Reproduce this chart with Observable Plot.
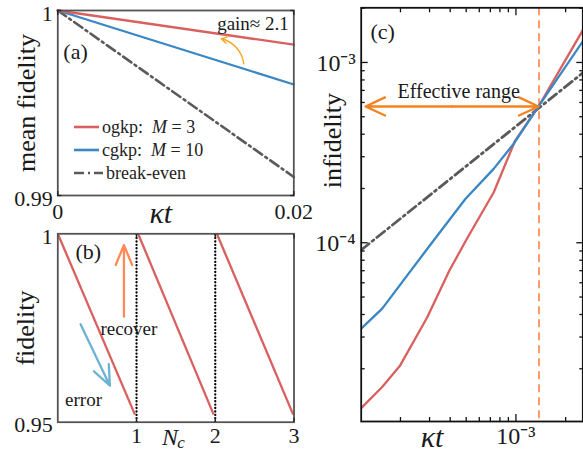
<!DOCTYPE html>
<html>
<head>
<meta charset="utf-8">
<script src="https://cdn.jsdelivr.net/npm/d3@7"></script>
<script src="https://cdn.jsdelivr.net/npm/@observablehq/plot@0.6"></script>
<style>
  body { margin: 0; background: #fff; }
  #fig { position: relative; width: 583px; height: 455px; overflow: hidden; background: #fff;
         font-family: "Liberation Serif", serif; color: #222; }
  .leg { position: absolute; font-family: "Liberation Serif", serif; font-size: 18px; line-height: 18px; white-space: pre; display: flex; align-items: center; }
  .leg svg { margin-right: 3px; }
  #fig svg text { font-family: "Liberation Serif", serif; }
</style>
</head>
<body>
<div id="fig"></div>
<script>
// ---------- Panel (a): mean fidelity vs kappa t ----------
const aKt = [0, 0.02];
const aOgkp = [1, 0.99815];
const aCgkp = [1, 0.996];
const aBreakEven = [1, 0.991];
const aXTicks = [0, 0.02];
const aYTicks = [0.99, 1];
const aGainArrowKt = [0.01576, 0.01385];
const aGainArrowF = [0.99712, 0.99847];
const aLegend = ["ogkp:  ", "cgkp:  ", "break-even"];

// ---------- Panel (b): fidelity vs N_c (sawtooth) ----------
const bCycleStart = [0, 1.02, 2.02];
const bCycleEnd = [0.98, 1.98, 2.99];
const bFidStart = [1, 1, 1];
const bFidEnd = [0.952, 0.952, 0.952];
const bRecoveries = [1, 2];
const bXTicks = [1, 2, 3];
const bYTicks = [0.95, 1];
const bRecoverArrowX = [0.84, 0.84];
const bRecoverArrowF = [0.978, 0.997];
const bErrorArrowX = [0.289, 0.662];
const bErrorArrowF = [0.976, 0.9597];
const bRecoverLabel = [0.903, 0.9748];
const bErrorLabel = [0.327, 0.9558];

// ---------- Panel (c): infidelity vs kappa t (log-log) ----------
const cRedKt  = [1.157e-4, 1.55e-4, 1.98e-4, 2.9e-4, 3.95e-4, 5.0e-4, 7.33e-4, 9.9e-4, 1.37e-3, 2.54e-3];
const cRedInf = [1.21e-5, 1.585e-5, 2.07e-5, 3.85e-5, 6.99e-5, 1.035e-4, 1.9e-4, 3.69e-4, 5.7e-4, 1.51e-3];
const cBlueKt  = [1.157e-4, 1.55e-4, 2.9e-4, 4.94e-4, 7.33e-4, 9.67e-4, 1.37e-3, 2.54e-3];
const cBlueInf = [3.34e-5, 4.31e-5, 9.23e-5, 1.75e-4, 2.57e-4, 3.53e-4, 5.7e-4, 1.31e-3];
const cBreakKt  = [1.157e-4, 2.54e-3];
const cBreakInf = [9.12e-5, 8.75e-4];
const cThreshold = [1.38e-3];
const cRangeKt = [1.23e-4, 4.1e-4, 1.37e-3];
const cRangeInf = 5.7e-4;
const cRangeLabel = [4.5e-4, 6.93e-4];
const cYMajor = [1e-4, 1e-3];
const cYMinor = [2e-5, 3e-5, 4e-5, 5e-5, 6e-5, 7e-5, 8e-5, 9e-5, 2e-4, 3e-4, 4e-4, 5e-4, 6e-4, 7e-4, 8e-4, 9e-4, 2e-3];
const cXMajor = [1e-3];
const cXMinor = [2e-4, 3e-4, 4e-4, 5e-4, 6e-4, 7e-4, 8e-4, 9e-4, 2e-3];
const cYLabels = {1e-4: "10\u207B\u2074", 1e-3: "10\u207B\u00B3"};

// ---------- styling ----------
const RED = "#d9605f", BLUE = "#3a87c4", GRAY = "#5a5a5a";
const SERIF = "Liberation Serif";
const rows = (xs, ys) => xs.map((x, i) => ({x, y: ys[i]}));
const style = {fontFamily: "'Liberation Serif', serif", fontSize: "22px", overflow: "visible", background: "none", color: "#111"};
const T = (o) => ({fontFamily: SERIF, fill: "#1a1a1a", ...o});

function inward(axis, ticks, size, anchor, color) {
  const o = {ticks, anchor, tickSize: size, tickFormat: () => "", stroke: color, strokeWidth: 1.3, label: null};
  if (axis === "x") return Plot.axisX({...o, dy: anchor === "bottom" ? -size : size});
  return Plot.axisY({...o, dx: anchor === "left" ? size : -size});
}

const fig = document.getElementById("fig");
function place(svg, left, top) {
  svg.style.position = "absolute";
  svg.style.left = left + "px";
  svg.style.top = top + "px";
  fig.appendChild(svg);
}

// ---------- (a) ----------
const frameA = "#555";
const plotA = Plot.plot({
  width: 310, height: 228,
  marginLeft: 57.3, marginRight: 16.7, marginTop: 10, marginBottom: 33,
  x: {domain: [0, 0.02]},
  y: {domain: [0.99, 1]},
  style,
  marks: [
    Plot.line(rows(aKt, aBreakEven), {x: "x", y: "y", stroke: GRAY, strokeWidth: 2.6, strokeDasharray: "10,4,2,4"}),
    Plot.line(rows(aKt, aCgkp), {x: "x", y: "y", stroke: BLUE, strokeWidth: 2.3}),
    Plot.line(rows(aKt, aOgkp), {x: "x", y: "y", stroke: RED, strokeWidth: 2.3}),
    Plot.arrow({length: 1}, {x1: [aGainArrowKt[0]], y1: [aGainArrowF[0]], x2: [aGainArrowKt[1]], y2: [aGainArrowF[1]],
      bend: -35, stroke: "#f5a623", strokeWidth: 1.4, headLength: 7}),
    Plot.frame({stroke: frameA, strokeWidth: 1.8}),
    Plot.axisY(T({ticks: aYTicks, tickSize: 0, tickPadding: 5, dy: 3, fontSize: 22, tickFormat: d => String(d), label: null})),
    Plot.axisX(T({ticks: aXTicks, tickSize: 0, tickPadding: 8, fontSize: 22, tickFormat: d => String(d), label: null})),
    inward("x", aXTicks, 4, "bottom", "#222"),
    inward("x", aXTicks, 4, "top", "#222"),
    inward("y", aYTicks, 4, "left", "#222"),
    inward("y", aYTicks, 4, "right", "#222"),
    Plot.text(["\u03BAt"], T({frameAnchor: "bottom", dx: -15, dy: 18, lineAnchor: "middle", fontSize: 30, fontStyle: "italic"})),
    Plot.text(["mean fidelity"], T({frameAnchor: "left", textAnchor: "middle", dx: -31, rotate: -90, lineAnchor: "middle", fontSize: 26})),
    Plot.text(["(a)"], T({frameAnchor: "top-left", textAnchor: "start", lineAnchor: "middle", dx: 5.5, dy: 41.7, fontSize: 22})),
    Plot.text(["gain\u2248 2.1"], T({frameAnchor: "top-right", textAnchor: "end", lineAnchor: "middle", dx: -5, dy: 13.3, fontSize: 19}))
  ]
});
place(plotA, 0, 0);

// legend for (a)
const legY = [126.7, 150, 172.7];
const legStroke = [RED, BLUE, GRAY];
const legDash = ["", "", "10,4,2,4"];
aLegend.forEach((t, i) => {
  const d = document.createElement("div");
  d.className = "leg";
  d.style.left = "74px";
  d.style.top = (legY[i] - 9) + "px";
  const w = i === 2 ? 29 : 25;
  d.innerHTML = `<svg width="${w}" height="6"><line x1="0" x2="${w}" y1="3" y2="3" stroke="${legStroke[i]}" stroke-width="2.6" stroke-dasharray="${legDash[i]}"/></svg>` +
    t + (i === 0 ? "<i>M</i> = 3" : i === 1 ? "<i>M</i> = 10" : "");
  fig.appendChild(d);
});

// ---------- (b) ----------
const plotB = Plot.plot({
  width: 310, height: 230,
  marginLeft: 57.3, marginRight: 16.5, marginTop: 8.3, marginBottom: 33.3,
  x: {domain: [0, 3]},
  y: {domain: [0.95, 1]},
  style,
  marks: [
    Plot.ruleX(bRecoveries, {y1: 0.95, y2: 1, stroke: "#000", strokeWidth: 2.3, strokeDasharray: "0.1,3.3", strokeLinecap: "round"}),
    Plot.link({length: 3}, {x1: bCycleStart, y1: bFidStart, x2: bCycleEnd, y2: bFidEnd, stroke: RED, strokeWidth: 2.3}),
    Plot.arrow({length: 1}, {x1: [bRecoverArrowX[0]], y1: [bRecoverArrowF[0]], x2: [bRecoverArrowX[1]], y2: [bRecoverArrowF[1]],
      stroke: "#ff8a55", strokeWidth: 2.3, headLength: 14, headAngle: 45}),
    Plot.arrow({length: 1}, {x1: [bErrorArrowX[0]], y1: [bErrorArrowF[0]], x2: [bErrorArrowX[1]], y2: [bErrorArrowF[1]],
      stroke: "#6cb2d4", strokeWidth: 2.3, headLength: 14, headAngle: 45}),
    Plot.text(["recover"], T({x: [bRecoverLabel[0]], y: [bRecoverLabel[1]], fontSize: 19})),
    Plot.text(["error"], T({x: [bErrorLabel[0]], y: [bErrorLabel[1]], fontSize: 19})),
    Plot.frame({stroke: frameA, strokeWidth: 1.8}),
    Plot.axisY(T({ticks: bYTicks, tickSize: 0, tickPadding: 5, dy: 3, fontSize: 22, tickFormat: d => String(d), label: null})),
    Plot.axisX(T({ticks: bXTicks, tickSize: 0, tickPadding: 5, fontSize: 22, tickFormat: d => String(d), label: null})),
    inward("x", bXTicks, 4, "bottom", "#222"),
    inward("x", bXTicks, 4, "top", "#222"),
    Plot.text(["N"], T({frameAnchor: "bottom", dx: -6, dy: 15, lineAnchor: "middle", fontSize: 24, fontStyle: "italic"})),
    Plot.text(["c"], T({frameAnchor: "bottom", dx: 5, dy: 20, lineAnchor: "middle", fontSize: 17, fontStyle: "italic"})),
    Plot.text(["fidelity"], T({frameAnchor: "left", textAnchor: "middle", dx: -32, rotate: -90, lineAnchor: "middle", fontSize: 26})),
    Plot.text(["(b)"], T({frameAnchor: "top-left", textAnchor: "start", lineAnchor: "middle", dx: 17.7, dy: 18.4, fontSize: 22}))
  ]
});
place(plotB, 0, 225);

// ---------- (c) ----------
const frameC = "#111";
const plotC = Plot.plot({
  width: 273, height: 455,
  marginLeft: 50.7, marginRight: 0.7, marginTop: 7.3, marginBottom: 34,
  x: {type: "log", domain: [1.157e-4, 2.54e-3]},
  y: {type: "log", domain: [1.02e-5, 2.01e-3]},
  style,
  marks: [
    Plot.ruleX(cThreshold, {stroke: "#ff9a66", strokeWidth: 2, strokeDasharray: "8,5"}),
    Plot.line(rows(cBreakKt, cBreakInf), {x: "x", y: "y", stroke: GRAY, strokeWidth: 2.8, strokeDasharray: "10,4,2,4", clip: true}),
    Plot.line(rows(cRedKt, cRedInf), {x: "x", y: "y", stroke: RED, strokeWidth: 2.3, clip: true}),
    Plot.line(rows(cBlueKt, cBlueInf), {x: "x", y: "y", stroke: BLUE, strokeWidth: 2.3, clip: true}),
    Plot.arrow({length: 1}, {x1: [cRangeKt[1]], x2: [cRangeKt[0]], y1: [cRangeInf], y2: [cRangeInf],
      stroke: "#f5821f", strokeWidth: 2.3, headLength: 14, headAngle: 50}),
    Plot.arrow({length: 1}, {x1: [cRangeKt[1]], x2: [cRangeKt[2]], y1: [cRangeInf], y2: [cRangeInf],
      stroke: "#f5821f", strokeWidth: 2.3, headLength: 14, headAngle: 50}),
    Plot.text(["Effective range"], T({x: [cRangeLabel[0]], y: [cRangeLabel[1]], fontSize: 20})),
    Plot.frame({stroke: frameC, strokeWidth: 1.8}),
    Plot.axisY(T({ticks: cYMajor, tickSize: 0, tickPadding: 5.5, dy: 1, fontSize: 24, tickFormat: d => cYLabels[d], label: null})),
    Plot.axisX(T({ticks: cXMajor, tickSize: 0, tickPadding: 5, fontSize: 24, tickFormat: () => "10\u207B\u00B3", label: null})),
    inward("y", cYMajor, 7, "left", "#111"),
    inward("y", cYMajor, 7, "right", "#111"),
    inward("y", cYMinor, 4, "left", "#111"),
    inward("y", cYMinor, 4, "right", "#111"),
    inward("x", cXMajor, 7, "bottom", "#111"),
    inward("x", cXMajor, 7, "top", "#111"),
    inward("x", cXMinor, 4, "bottom", "#111"),
    inward("x", cXMinor, 4, "top", "#111"),
    Plot.text(["\u03BAt"], T({frameAnchor: "bottom", dx: -40, dy: 16, lineAnchor: "middle", fontSize: 30, fontStyle: "italic"})),
    Plot.text(["infidelity"], T({frameAnchor: "left", textAnchor: "middle", dx: -29, dy: -74, rotate: -90, lineAnchor: "middle", fontSize: 26})),
    Plot.text(["(c)"], T({frameAnchor: "top-left", textAnchor: "start", lineAnchor: "middle", dx: 9.3, dy: 24.4, fontSize: 22}))
  ]
});
place(plotC, 310, 0);
</script>
</body>
</html>
